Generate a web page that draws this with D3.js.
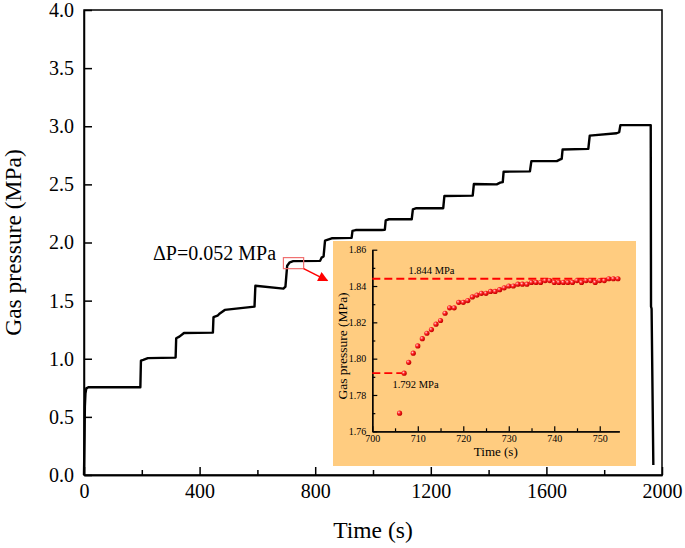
<!DOCTYPE html>
<html><head><meta charset="utf-8">
<script src="https://cdn.jsdelivr.net/npm/d3@7"></script>
<style>html,body{margin:0;padding:0;background:#fff;} svg{display:block;font-family:"Liberation Serif","Times New Roman",serif;}</style>
</head><body><svg id="c" width="685" height="548"></svg>
<script>
// ---- data ----
const mainTime = [0,2,3,5,8,15,195,197,205,221,317,319,330,346,446,448,462,470,487,590,593,690,697,703,712,724,817,822,829,834,857,926,929,940,1030,1041,1044,1055,1134,1138,1150,1243,1247,1345,1349,1428,1440,1449,1452,1543,1548,1636,1648,1653,1656,1745,1750,1843,1852,1856,1961,1962,1964,1970];
const mainPressure = [0,0.35,0.59,0.70,0.745,0.755,0.755,0.983,0.99,1.005,1.01,1.176,1.19,1.222,1.225,1.357,1.37,1.39,1.42,1.448,1.628,1.603,1.62,1.80,1.83,1.84,1.842,1.87,1.88,2.016,2.036,2.04,2.10,2.107,2.107,2.11,2.19,2.20,2.20,2.285,2.295,2.295,2.40,2.403,2.503,2.50,2.515,2.52,2.609,2.612,2.70,2.70,2.715,2.72,2.80,2.805,2.919,2.94,2.95,3.01,3.01,1.45,1.43,0.086];
const xTicksMajor = [0,400,800,1200,1600,2000];
const xTicksMinor = [200,600,1000,1400,1800];
const yTicks = [0,0.5,1.0,1.5,2.0,2.5,3.0,3.5,4.0];

const insetTime = [706,707,708,709,710,711,712,713,714,715,716,717,718,719,720,721,722,723,724,725,726,727,728,729,730,731,732,733,734,735,736,737,738,739,740,741,742,743,744,745,746,747,748,749,750,751,752,753,754];
const insetPressure = [1.770,1.792,1.798,1.803,1.807,1.811,1.814,1.816,1.819,1.821,1.825,1.828,1.828,1.831,1.831,1.832,1.834,1.835,1.836,1.836,1.837,1.837,1.838,1.839,1.840,1.840,1.841,1.841,1.841,1.842,1.842,1.842,1.843,1.843,1.842,1.842,1.842,1.842,1.842,1.843,1.842,1.843,1.843,1.842,1.843,1.843,1.844,1.844,1.844];
const insetXTicks = [700,710,720,730,740,750];
const insetXMinor = [705,715,725,735,745];
const insetYTicks = [1.76,1.78,1.80,1.82,1.84,1.86];
const insetYMinor = [1.77,1.79,1.81,1.83,1.85];
const levelHigh = 1.844, levelLow = 1.792;
const levelHighLabel = "1.844 MPa", levelLowLabel = "1.792 MPa";
const annotation = "\u0394P=0.052 MPa";
const zoomBox = {t0:690, t1:760, p0:1.775, p1:1.87};

// ---- main chart ----
const svg = d3.select("#c");
const x = d3.scaleLinear().domain([0,2000]).range([84,662]);
const y = d3.scaleLinear().domain([0,4]).range([475,10]);

const defs = svg.append("defs");
const grad = defs.append("radialGradient").attr("id","ball").attr("cx","35%").attr("cy","35%").attr("r","65%");
grad.append("stop").attr("offset","0%").attr("stop-color","#ffd0d0");
grad.append("stop").attr("offset","45%").attr("stop-color","#ff2020");
grad.append("stop").attr("offset","100%").attr("stop-color","#c00000");
defs.append("marker").attr("id","arr").attr("viewBox","0 0 10 10").attr("refX",9).attr("refY",5)
  .attr("markerWidth",14).attr("markerHeight",10).attr("markerUnits","userSpaceOnUse").attr("orient","auto")
  .append("path").attr("d","M0,0L10,5L0,10z").attr("fill","#ff0000");

// frame
svg.append("rect").attr("x",x(0)).attr("y",y(4)).attr("width",x(2000)-x(0)).attr("height",y(0)-y(4))
  .attr("fill","none").attr("stroke","#000").attr("stroke-width",1.5);

const gx = svg.append("g").attr("transform",`translate(0,${y(0)})`);
gx.call(d3.axisBottom(x).tickValues(xTicksMajor).tickSizeInner(-8).tickSizeOuter(0).tickPadding(9).tickFormat(d3.format("d")));
const gxm = svg.append("g").attr("transform",`translate(0,${y(0)})`);
gxm.call(d3.axisBottom(x).tickValues(xTicksMinor).tickSizeInner(-5).tickSizeOuter(0).tickFormat(""));
const gy = svg.append("g").attr("transform",`translate(${x(0)},0)`);
gy.call(d3.axisLeft(y).tickValues(yTicks).tickSizeInner(-8).tickSizeOuter(0).tickPadding(10).tickFormat(d3.format(".1f")));
[gx,gxm,gy].forEach(g=>{
  g.select(".domain").attr("stroke","#000").attr("stroke-width",1.5);
  g.selectAll(".tick line").attr("stroke","#000").attr("stroke-width",1.5);
  g.selectAll(".tick text").attr("font-family","Liberation Serif").attr("font-size",20).attr("fill","#000");
});

svg.append("text").attr("x",(x(0)+x(2000))/2).attr("y",538).attr("text-anchor","middle")
  .attr("font-size",23.5).text("Time (s)");
svg.append("text").attr("transform",`translate(21,${(y(0)+y(4))/2}) rotate(-90)`).attr("text-anchor","middle")
  .attr("font-size",23.5).text("Gas pressure (MPa)");

const mainData = mainTime.map((t,i)=>[t,mainPressure[i]]);
svg.append("path").datum(mainData)
  .attr("d",d3.line().x(d=>x(d[0])).y(d=>y(d[1])))
  .attr("fill","none").attr("stroke","#000").attr("stroke-width",2.4).attr("stroke-linejoin","round");

// annotation
svg.append("text").attr("x",153).attr("y",260).attr("font-size",20).text(annotation);
svg.append("rect").attr("x",x(zoomBox.t0)).attr("y",y(zoomBox.p1))
  .attr("width",x(zoomBox.t1)-x(zoomBox.t0)).attr("height",y(zoomBox.p0)-y(zoomBox.p1))
  .attr("fill","none").attr("stroke","#f07070").attr("stroke-width",1.2);
svg.append("line").attr("x1",x(zoomBox.t1)).attr("y1",y(zoomBox.p0)).attr("x2",x(842)).attr("y2",y(1.672))
  .attr("stroke","#ff0000").attr("stroke-width",1.5).attr("marker-end","url(#arr)");

// ---- inset ----
svg.append("rect").attr("x",333).attr("y",241).attr("width",303).attr("height",225).attr("fill","#FFCC80");
const ix = d3.scaleLinear().domain([700,754.3]).range([372.3,619.3]);
const iy = d3.scaleLinear().domain([1.76,1.86]).range([431.3,249.7]);

const igx = svg.append("g").attr("transform",`translate(0,${iy(1.76)})`);
igx.call(d3.axisBottom(ix).tickValues(insetXTicks).tickSizeInner(-5).tickSizeOuter(0).tickPadding(4).tickFormat(d3.format("d")));
const igxm = svg.append("g").attr("transform",`translate(0,${iy(1.76)})`);
igxm.call(d3.axisBottom(ix).tickValues(insetXMinor).tickSizeInner(-3).tickSizeOuter(0).tickFormat(""));
const igy = svg.append("g").attr("transform",`translate(${ix(700)},0)`);
igy.call(d3.axisLeft(iy).tickValues(insetYTicks).tickSizeInner(-5).tickSizeOuter(0).tickPadding(6).tickFormat(d3.format(".2f")));
const igym = svg.append("g").attr("transform",`translate(${ix(700)},0)`);
igym.call(d3.axisLeft(iy).tickValues(insetYMinor).tickSizeInner(-3).tickSizeOuter(0).tickFormat(""));
[igx,igxm,igy,igym].forEach(g=>{
  g.select(".domain").attr("stroke","#000").attr("stroke-width",1.3);
  g.selectAll(".tick line").attr("stroke","#000").attr("stroke-width",1.2);
  g.selectAll(".tick text").attr("font-family","Liberation Serif").attr("font-size",10).attr("fill","#000");
});
svg.append("text").attr("x",(ix(700)+ix(754.3))/2).attr("y",456).attr("text-anchor","middle")
  .attr("font-size",13).text("Time (s)");
svg.append("text").attr("transform",`translate(347,346) rotate(-90)`).attr("text-anchor","middle")
  .attr("font-size",13.5).text("Gas pressure (MPa)");

svg.append("line").attr("x1",ix(700)).attr("x2",ix(754.3)).attr("y1",iy(levelHigh)).attr("y2",iy(levelHigh))
  .attr("stroke","#ff0000").attr("stroke-width",1.8).attr("stroke-dasharray","8,4");
svg.append("line").attr("x1",ix(700)).attr("x2",ix(707)).attr("y1",iy(levelLow)).attr("y2",iy(levelLow))
  .attr("stroke","#ff0000").attr("stroke-width",1.8).attr("stroke-dasharray","8,4");
svg.append("text").attr("x",ix(713)).attr("y",iy(levelHigh)-5).attr("text-anchor","middle").attr("font-size",10.5).text(levelHighLabel);
svg.append("text").attr("x",ix(709.5)).attr("y",iy(levelLow)+15).attr("text-anchor","middle").attr("font-size",10.5).text(levelLowLabel);

svg.append("g").selectAll("circle").data(insetTime.map((t,i)=>[t,insetPressure[i]])).join("circle")
  .attr("cx",d=>ix(d[0])).attr("cy",d=>iy(d[1])).attr("r",2.6).attr("fill","url(#ball)");
</script></body></html>
